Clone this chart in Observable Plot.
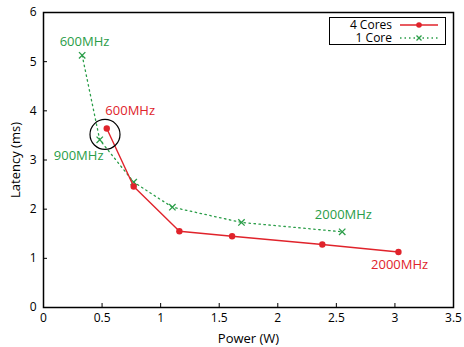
<!DOCTYPE html>
<html>
<head>
<meta charset="utf-8">
<script src="https://cdn.jsdelivr.net/npm/d3@7"></script>
<script src="https://cdn.jsdelivr.net/npm/@observablehq/plot@0.6"></script>
<style>
  html, body { margin: 0; padding: 0; background: #fff; }
  #wrap { position: relative; width: 464px; height: 347px; font-family: "Open Sans", sans-serif; }
  #legend { position: absolute; left: 329px; top: 17px; width: 115px; height: 26px; border: 1px solid #000; background: #fff; font-size: 12px; color: #000; }
  #legend .row { position: absolute; left: 0; width: 115px; height: 12px; }
  #legend .lab { display: block; position: absolute; right: 53px; top: 1px; height: 11px; line-height: 11px; white-space: nowrap; }
  #legend svg { position: absolute; left: 70px; top: 0; }
</style>
</head>
<body>
<div id="wrap"></div>
<script>
// Data
const fourCoresPower   = [0.54, 0.77, 1.16, 1.61, 2.38, 3.03];
const fourCoresLatency = [3.64, 2.46, 1.55, 1.45, 1.28, 1.13];
const oneCorePower     = [0.33, 0.48, 0.77, 1.10, 1.69, 2.55];
const oneCoreLatency   = [5.13, 3.41, 2.55, 2.04, 1.73, 1.54];

const xTicks = [0, 0.5, 1, 1.5, 2, 2.5, 3, 3.5];
const yTicks = [0, 1, 2, 3, 4, 5, 6];

const labelText  = ["600MHz", "600MHz", "900MHz", "2000MHz", "2000MHz"];
const labelX     = [0.35, 0.74, 0.30, 2.56, 3.04];
const labelY     = [5.40, 4.00, 3.09, 1.88, 0.86];
const labelSeries = ["1 Core", "4 Cores", "1 Core", "1 Core", "4 Cores"];

const circleX = [0.525];
const circleY = [3.52];

const red = "#e0232b";
const green = "#2a9d48";

const four = fourCoresPower.map((p, i) => ({x: p, y: fourCoresLatency[i]}));
const one = oneCorePower.map((p, i) => ({x: p, y: oneCoreLatency[i]}));
const labels = labelText.map((t, i) => ({text: t, x: labelX[i], y: labelY[i], color: labelSeries[i] === "4 Cores" ? red : green}));
const circles = circleX.map((x, i) => ({x, y: circleY[i]}));

const chart = Plot.plot({
  width: 464,
  height: 347,
  marginLeft: 43,
  marginRight: 11,
  marginTop: 12,
  marginBottom: 40,
  style: {fontFamily: "Open Sans, sans-serif", fontSize: "12px", color: "#000", background: "#fff"},
  x: {domain: [0, 3.5]},
  y: {domain: [0, 6]},
  marks: [
    Plot.axisX({ticks: xTicks, tickSize: -4, tickPadding: 10, tickFormat: d => String(d), fontSize: 12,
      label: "Power (W)", labelAnchor: "center", labelOffset: 35, labelArrow: "none"}),
    Plot.axisY({ticks: yTicks, tickSize: -4, tickPadding: 11, tickFormat: d => String(d), fontSize: 12,
      label: "Latency (ms)", labelAnchor: "center", labelOffset: 33, labelArrow: "none"}),
    Plot.line(one, {x: "x", y: "y", stroke: green, strokeWidth: 1.3, strokeDasharray: "1.5,3.5"}),
    Plot.dot(one, {x: "x", y: "y", symbol: "times", r: 3, stroke: green, strokeWidth: 1.3}),
    Plot.line(four, {x: "x", y: "y", stroke: red, strokeWidth: 1.4}),
    Plot.dot(four, {x: "x", y: "y", r: 3.2, fill: red}),
    Plot.dot(circles, {x: "x", y: "y", r: 15, stroke: "#000", strokeWidth: 1.2, fill: "none"}),
    Plot.text(labels, {x: "x", y: "y", text: "text", fill: "color", fontSize: 13}),
    Plot.frame({stroke: "#000", strokeWidth: 1.5})
  ]
});

const wrap = document.getElementById("wrap");
wrap.appendChild(chart);
// axis label font size
chart.querySelectorAll("g[aria-label='x-axis label'] text, g[aria-label='y-axis label'] text").forEach(t => t.setAttribute("font-size", 13));

const legend = document.createElement("div");
legend.id = "legend";
const entries = [
  {name: "4 Cores", color: red, dash: null, sym: "dot"},
  {name: "1 Core", color: green, dash: "1.5,3", sym: "x"}
];
entries.forEach((e, i) => {
  const row = document.createElement("div");
  row.className = "row";
  row.style.top = (i * 12.5) + "px";
  const lab = document.createElement("span");
  lab.className = "lab";
  lab.textContent = e.name;
  row.appendChild(lab);
  const s = d3.create("svg").attr("width", 40).attr("height", 12);
  s.append("line").attr("x1", 0).attr("x2", 38).attr("y1", 7).attr("y2", 7)
    .attr("stroke", e.color).attr("stroke-width", 1.3).attr("stroke-dasharray", e.dash);
  if (e.sym === "dot") {
    s.append("circle").attr("cx", 19).attr("cy", 7).attr("r", 2.8).attr("fill", e.color);
  } else {
    s.append("path").attr("d", "M16.5,4.5L21.5,9.5M21.5,4.5L16.5,9.5").attr("stroke", e.color).attr("stroke-width", 1.3).attr("fill", "none");
  }
  row.appendChild(s.node());
  legend.appendChild(row);
});
wrap.appendChild(legend);
</script>
</body>
</html>
